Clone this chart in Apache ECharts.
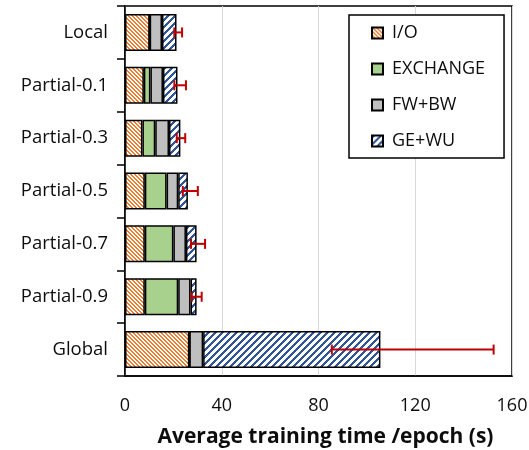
<!DOCTYPE html>
<html>
<head>
<meta charset="utf-8">
<script src="https://cdn.jsdelivr.net/npm/echarts@6/dist/echarts.min.js"></script>
<style>
  html, body { margin: 0; padding: 0; background: #fff; }
  #chart { width: 529px; height: 450px; }
</style>
</head>
<body>
<div id="chart"></div>
<script>
// Per-epoch training time breakdown (seconds)
const categories = ['Local', 'Partial-0.1', 'Partial-0.3', 'Partial-0.5', 'Partial-0.7', 'Partial-0.9', 'Global'];
const ioTime       = [10.2, 7.8, 7.2, 8.2, 8.2, 8.2, 26.6];
const exchangeTime = [0, 2.7, 5.3, 9.0, 11.8, 13.8, 0];
const fwbwTime     = [5.1, 5.2, 5.7, 4.8, 5.2, 5.1, 5.7];
const geWuTime     = [6.0, 6.0, 4.7, 4.0, 4.4, 2.5, 73.3];
// Error bar extents
const errLow  = [20.4, 20.4, 21.4, 23.9, 27.3, 27.6, 85.5];
const errHigh = [23.6, 25.2, 24.9, 30.1, 33.1, 31.7, 152.4];
const xTicks = [0, 40, 80, 120, 160];

const FONT = '"Open Sans", "DejaVu Sans", sans-serif';
const INK = '#0d0d0d';

// Diagonal hatch tile drawn pixel by pixel for crisp stripes
function hatch(color, period, width, dir) {
  const c = document.createElement('canvas');
  c.width = period; c.height = period;
  const ctx = c.getContext('2d');
  const img = ctx.createImageData(period, period);
  const r = parseInt(color.slice(1, 3), 16), g = parseInt(color.slice(3, 5), 16), b = parseInt(color.slice(5, 7), 16);
  for (let y = 0; y < period; y++) {
    for (let x = 0; x < period; x++) {
      const k = dir === '\\' ? ((x - y) % period + period) % period : (x + y) % period;
      const i = (y * period + x) * 4;
      const on = k < width;
      img.data[i] = on ? r : 255;
      img.data[i + 1] = on ? g : 255;
      img.data[i + 2] = on ? b : 255;
      img.data[i + 3] = 255;
    }
  }
  ctx.putImageData(img, 0, 0);
  return { image: c, repeat: 'repeat' };
}

const border = { borderColor: '#000', borderWidth: 1.5 };
const barW = 37;

function barSeries(name, data, fill) {
  return {
    name, type: 'bar', stack: 'total', data, barWidth: barW,
    itemStyle: Object.assign({ color: fill }, border),
    emphasis: { disabled: true }
  };
}

const chart = echarts.init(document.getElementById('chart'), null, { renderer: 'canvas' });
chart.setOption({
  animation: false,
  backgroundColor: '#fff',
  grid: {
    left: 125, right: 17, top: 6, bottom: 74,
    outerBoundsMode: 'none', containLabel: false,
    show: true, borderColor: '#000', borderWidth: 1.5
  },
  legend: {
    orient: 'vertical', left: 349, top: 15, width: 158,
    data: ['I/O', 'EXCHANGE', 'FW+BW', 'GE+WU'],
    icon: 'rect',
    itemWidth: 11, itemHeight: 11, itemGap: 18,
    padding: [9, 19, 8, 22],
    borderColor: '#000', borderWidth: 1.5, backgroundColor: '#fff',
    textStyle: { fontFamily: FONT, fontSize: 18, color: INK, lineHeight: 18, padding: [0, 0, 0, 4] },
    z: 10
  },
  xAxis: {
    type: 'value', min: xTicks[0], max: xTicks[xTicks.length - 1], interval: 40,
    axisLine: { show: true, lineStyle: { color: '#000', width: 1.5 } },
    axisTick: { show: false },
    splitLine: { show: true, lineStyle: { color: '#d9d9d9', width: 1 } },
    axisLabel: { fontFamily: FONT, fontSize: 18, color: INK, margin: 21 },
    name: 'Average training time /epoch (s)',
    nameLocation: 'middle', nameGap: 51,
    nameTextStyle: { fontFamily: FONT, fontSize: 21, fontWeight: 'bold', color: INK, padding: [0, 0, 0, 14] }
  },
  yAxis: {
    type: 'category', data: categories, inverse: true,
    axisLine: { show: true, lineStyle: { color: '#000', width: 1.5 } },
    axisTick: { show: true, length: 8, lineStyle: { color: '#000', width: 1.5 } },
    axisLabel: { fontFamily: FONT, fontSize: 18.5, color: INK, margin: 17 }
  },
  series: [
    barSeries('I/O', ioTime, hatch('#ED7D31', 4, 2, '\\')),
    barSeries('EXCHANGE', exchangeTime, '#A9D18E'),
    barSeries('FW+BW', fwbwTime, '#BFBFBF'),
    barSeries('GE+WU', geWuTime, hatch('#2F5597', 7, 3, '/')),
    {
      type: 'custom', name: 'err', z: 5,
      data: categories.map((c, i) => [i, errLow[i], errHigh[i]]),
      encode: { x: [1, 2], y: 0 },
      renderItem(params, api) {
        const y = api.value(0);
        const p1 = api.coord([api.value(1), y]);
        const p2 = api.coord([api.value(2), y]);
        const h = 5;
        const st = { stroke: '#C00000', lineWidth: 2 };
        return {
          type: 'group',
          children: [
            { type: 'line', shape: { x1: p1[0], y1: p1[1], x2: p2[0], y2: p2[1] }, style: st },
            { type: 'line', shape: { x1: p1[0], y1: p1[1] - h, x2: p1[0], y2: p1[1] + h }, style: st },
            { type: 'line', shape: { x1: p2[0], y1: p2[1] - h, x2: p2[0], y2: p2[1] + h }, style: st }
          ]
        };
      }
    }
  ]
});
</script>
</body>
</html>
